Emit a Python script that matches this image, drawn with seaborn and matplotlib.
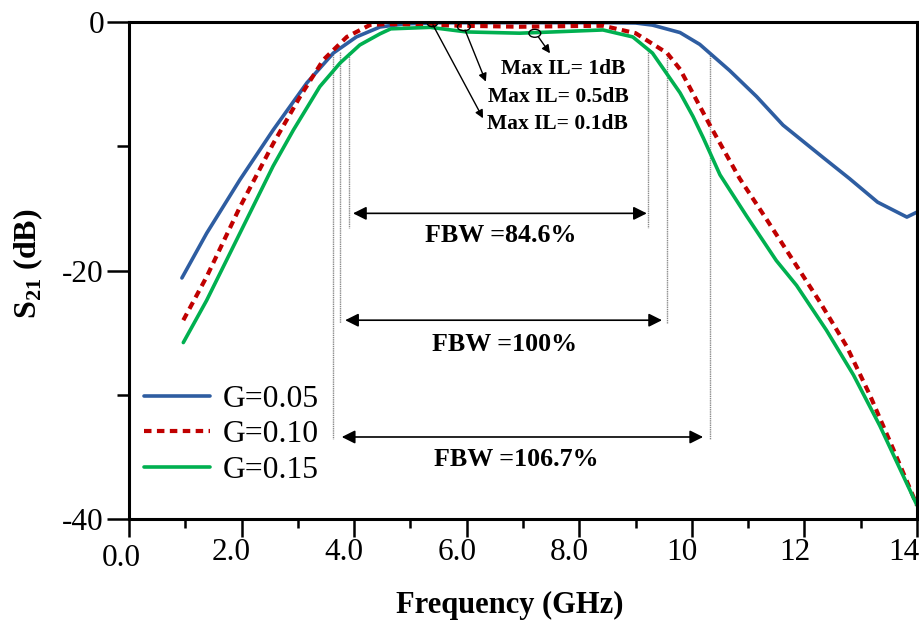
import matplotlib
matplotlib.use("Agg")
import matplotlib.pyplot as plt
from matplotlib.patches import Ellipse
from matplotlib.transforms import ScaledTranslation
from matplotlib.ticker import MultipleLocator
import pandas as pd
import seaborn as sns

# ---- simulated S21 responses for three coupling gaps ----
freq_g005 = [0.94, 1.38, 1.97, 2.56, 3.16, 3.63, 4.04, 4.46, 4.9, 5.5, 6.5, 7.5, 8.5,
             9.0, 9.3, 9.79, 10.14, 10.67, 11.15, 11.62, 12.33, 12.8, 13.3, 13.82, 14.0]
s21_g005 = [-20.6, -17.0, -12.7, -8.7, -4.9, -2.5, -1.2, -0.4, -0.15, -0.06, -0.05, -0.05, -0.05,
            -0.08, -0.25, -0.85, -1.8, -3.9, -6.0, -8.3, -10.9, -12.6, -14.5, -15.7, -15.3]

freq_g010 = [0.965, 1.38, 1.97, 2.56, 3.04, 3.45, 3.87, 4.28, 4.58, 5.0, 5.93, 6.94, 7.8,
             8.42, 9.0, 9.56, 9.79, 10.32, 10.85, 11.33, 11.8, 12.27, 12.75, 13.16, 13.58, 14.0]
s21_g010 = [-24.0, -20.5, -14.9, -9.8, -6.0, -3.06, -1.2, -0.24, -0.16, -0.2, -0.3, -0.38, -0.33,
            -0.3, -0.9, -2.5, -3.8, -8.3, -12.6, -15.9, -19.2, -22.5, -26.1, -30.0, -34.4, -38.9]

freq_g015 = [0.965, 1.38, 1.97, 2.56, 2.92, 3.39, 3.75, 4.1, 4.46, 4.65, 5.35, 6.0, 6.94, 7.53,
             8.42, 8.95, 9.3, 9.79, 10.02, 10.2, 10.5, 10.97, 11.5, 11.86, 12.39, 12.87, 13.34, 14.0]
s21_g015 = [-25.8, -22.4, -17.0, -11.6, -8.7, -5.2, -3.3, -1.85, -0.95, -0.55, -0.43, -0.8, -0.9, -0.8,
            -0.64, -1.2, -2.5, -5.7, -7.6, -9.3, -12.3, -15.6, -19.2, -21.2, -24.8, -28.4, -32.5, -38.9]

series_labels = ["G=0.05", "G=0.10", "G=0.15"]
series_colors = ["#2E5DA1", "#C00000", "#00B050"]

# band edges (GHz) for each fractional-bandwidth marker
fbw_labels = ["FBW =84.6%", "FBW =100%", "FBW =106.7%"]
fbw_lower = [3.90, 3.75, 3.62]
fbw_upper = [9.22, 9.56, 10.32]

il_labels = ["Max IL= 1dB", "Max IL= 0.5dB", "Max IL= 0.1dB"]

x_ticks = [0, 2, 4, 6, 8, 10, 12, 14]
x_ticklabels = ["0.0", "2.0", "4.0", "6.0", "8.0", "10", "12", "14"]
y_ticks = [-40, -20, 0]
y_ticklabels = ["-40", "-20", "0"]

sns.set_style("ticks")
plt.rcParams["font.family"] = ["Liberation Serif", "DejaVu Serif"]
plt.rcParams["mathtext.fontset"] = "custom"
plt.rcParams["mathtext.rm"] = "Liberation Serif"
plt.rcParams["mathtext.bf"] = "Liberation Serif:bold"
for key in ("text.color", "axes.labelcolor", "xtick.color", "ytick.color", "axes.edgecolor"):
    plt.rcParams[key] = "black"

fig = plt.figure(figsize=(9.2, 6.23), dpi=100)
ax = fig.add_axes([129 / 920, 1 - 519 / 623, 788 / 920, 497 / 623])

frames = []
for f, s, lab in zip([freq_g005, freq_g010, freq_g015],
                     [s21_g005, s21_g010, s21_g015], series_labels):
    frames.append(pd.DataFrame({"freq": f, "s21": s, "gap": lab}))
df = pd.concat(frames, ignore_index=True)

handles = []
for lab, col in zip(series_labels, series_colors):
    sub = df[df["gap"] == lab]
    sns.lineplot(data=sub, x="freq", y="s21", color=col, lw=2.6, sort=False,
                 ax=ax, legend=False)
    line = ax.lines[-1]
    if lab == "G=0.10":
        line.set_dashes([1.8, 1.3])
        line.set_linewidth(3.0)
    handles.append(line)

ax.set_xlim(0, 14)
ax.set_ylim(-40, 0)

# band-edge reference lines and dimension arrows
line_tops = [(-2.4, -2.25), (-2.4, -2.65), (-2.4, -2.5)]
line_bottoms = [-16.6, -24.2, -33.6]
arrow_y = [-15.4, -24.0, -33.4]
arrow_x = [(3.98, 9.2), (3.84, 9.47), (3.78, 10.2)]
text_y = [-17.68, -26.44, -35.7]
text_x = [6.61, 6.68, 6.89]
for i in range(3):
    for xv, top in zip((fbw_lower[i], fbw_upper[i]), line_tops[i]):
        ax.plot([xv, xv], [top, line_bottoms[i]], color="#8a8a8a", lw=1.0,
                ls=(0, (1, 0.6)), zorder=1)
    ax.annotate("", xy=(arrow_x[i][1], arrow_y[i]), xytext=(arrow_x[i][0], arrow_y[i]),
                arrowprops=dict(arrowstyle="<|-|>", color="black", lw=1.2,
                                mutation_scale=20, shrinkA=0, shrinkB=0))
    ax.text(text_x[i], text_y[i], fbw_labels[i], ha="center", va="baseline",
            fontsize=18.7, fontweight="bold")

# insertion-loss callouts
ell_centers = [(7.21, -0.91), (5.95, -0.38), (5.39, -0.10)]
ell_sizes = [(0.21, 0.64), (0.23, 0.64), (0.18, 0.56)]
arrow_start = [(7.27, -1.18), (5.97, -0.64), (5.40, -0.24)]
arrow_end = [(7.48, -2.52), (6.34, -4.8), (6.29, -7.75)]
il_pos = [(7.71, -4.16), (7.62, -6.41), (7.62, -8.58)]
for i in range(3):
    ax.add_patch(Ellipse(ell_centers[i], ell_sizes[i][0], ell_sizes[i][1],
                         fill=False, edgecolor="black", lw=1.0, zorder=5))
    ax.annotate("", xy=arrow_end[i], xytext=arrow_start[i],
                arrowprops=dict(arrowstyle="-|>", color="black", lw=1.0,
                                mutation_scale=12, shrinkA=0, shrinkB=0))
    ax.text(il_pos[i][0], il_pos[i][1], il_labels[i], ha="center", va="baseline",
            fontsize=15.5, fontweight="bold")

# axes frame and ticks
for sp in ax.spines.values():
    sp.set_visible(True)
    sp.set_linewidth(2.2)
    sp.set_color("black")
ax.set_xticks(x_ticks)
ax.set_xticklabels(x_ticklabels)
ax.set_yticks(y_ticks)
ax.set_yticklabels(y_ticklabels)
ax.xaxis.set_minor_locator(MultipleLocator(1))
ax.yaxis.set_minor_locator(MultipleLocator(10))
ax.tick_params(axis="x", which="major", direction="out", length=13, width=1.8,
               labelsize=22.5, pad=1)
ax.tick_params(axis="x", which="minor", direction="out", length=6.5, width=1.8)
ax.tick_params(axis="y", which="major", direction="out", length=16, width=1.8,
               labelsize=22.5, pad=2)
ax.tick_params(axis="y", which="minor", direction="out", length=9, width=1.8)

for i, lbl in enumerate(ax.get_xticklabels()):
    if i == 0:
        dx, dy = -0.08, -0.06
    elif i == len(x_ticks) - 1:
        dx, dy = -0.13, 0
    else:
        dx, dy = -0.10, 0
    lbl.set_transform(lbl.get_transform() + ScaledTranslation(dx, dy, fig.dpi_scale_trans))

ax.set_xlabel("Frequency (GHz)", fontsize=22, fontweight="bold", va="center")
ax.xaxis.set_label_coords((510 - 129) / 788, (519 - 605) / 497)
ax.set_ylabel(r"$\mathbf{S}_{\mathbf{21}}$ (dB)", fontsize=23, fontweight="bold", va="center")
ax.yaxis.set_label_coords((28 - 129) / 788, (519 - 264) / 497)

ax.legend(handles, series_labels, loc="upper left", bbox_to_anchor=(0.019, 0.27),
          frameon=False, fontsize=22.8, handlelength=2.1, handletextpad=0.38,
          labelspacing=0.2, borderpad=0, borderaxespad=0)

fig.savefig("out.png", dpi=100)
